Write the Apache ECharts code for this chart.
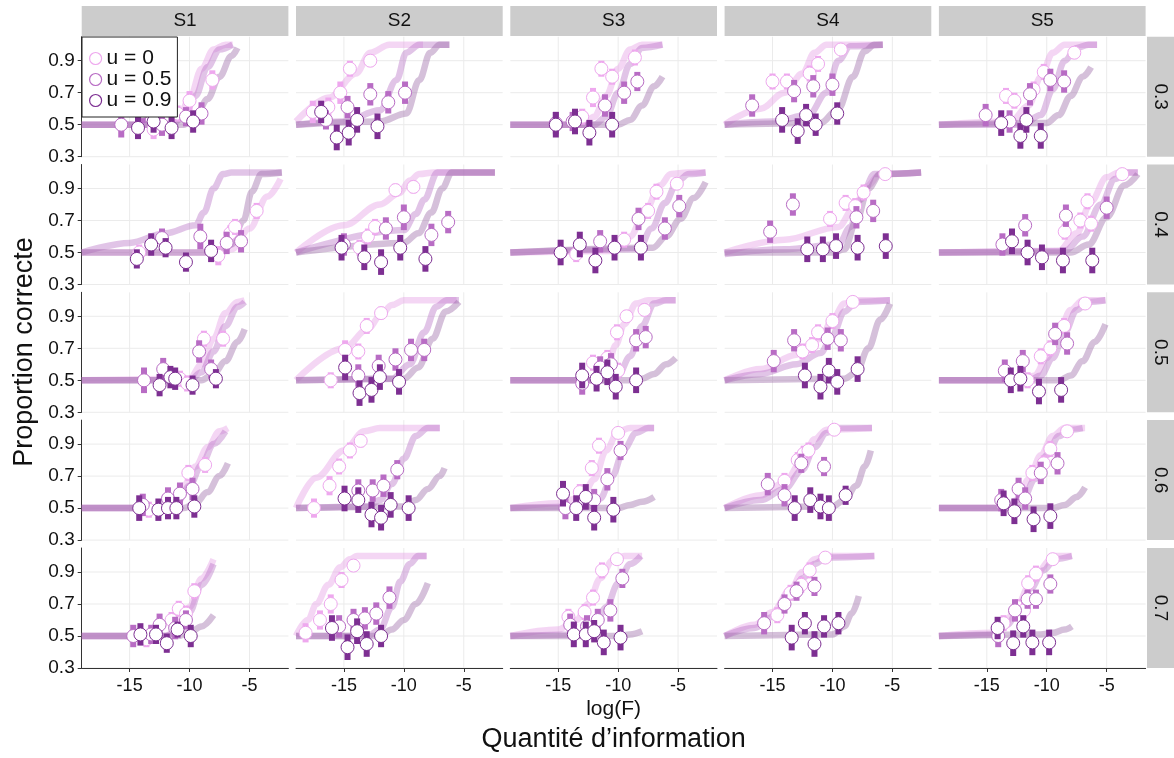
<!DOCTYPE html>
<html>
<head>
<meta charset="utf-8">
<script src="https://cdn.jsdelivr.net/npm/echarts@6/dist/echarts.min.js"></script>
<style>
  html, body { margin: 0; padding: 0; background: #fff; }
  #chart { width: 1174px; height: 758px; }
</style>
</head>
<body>
<div id="chart"></div>
<script>
// facettes : colonnes = sujets, lignes = niveau de bruit
var subjects = ['S1', 'S2', 'S3', 'S4', 'S5'];
var rowLabels = ['0.3', '0.4', '0.5', '0.6', '0.7'];
var uNames = ['u = 0', 'u = 0.5', 'u = 0.9'];
var xTicks = [-15, -10, -5];
var yTicks = [0.3, 0.5, 0.7, 0.9];

// points observés [log(F), proportion, demi-barre], [ligne][sujet]
var pts0 = [
  [[[-13.0,0.47,0.06],[-11.9,0.53,0.05],[-11.0,0.57,0.05],[-10.0,0.65,0.06],[-8.1,0.78,0.06]],
   [[-17.6,0.58,0.07],[-16.3,0.61,0.06],[-15.3,0.70,0.07],[-14.5,0.85,0.05],[-12.8,0.90,0.04]],
   [[-13.0,0.55,0.05],[-12.1,0.67,0.06],[-11.4,0.85,0.05],[-10.5,0.80,0.05],[-8.6,0.92,0.05]],
   [[-15.0,0.77,0.05],[-13.8,0.77,0.05],[-11.9,0.82,0.05],[-11.2,0.88,0.05],[-9.3,0.97,0.03]],
   [[-13.4,0.68,0.05],[-12.7,0.65,0.05],[-11.1,0.72,0.05],[-10.25,0.83,0.05],[-7.7,0.95,0.04]]],
  [[[-14.2,0.50,0.05],[-7.6,0.48,0.06],[-6.6,0.62,0.05],[-6.2,0.66,0.05],[-4.4,0.76,0.05]],
   [[-13.7,0.53,0.05],[-13.0,0.60,0.05],[-12.4,0.66,0.05],[-10.7,0.89,0.04],[-9.2,0.91,0.04]],
   [[-13.5,0.49,0.05],[-9.5,0.58,0.05],[-7.5,0.76,0.05],[-6.8,0.88,0.05],[-5.1,0.93,0.04]],
   [[-10.2,0.71,0.05],[-8.9,0.81,0.05],[-8.1,0.79,0.05],[-7.4,0.875,0.05],[-5.6,0.99,0.03]],
   [[-8.5,0.63,0.05],[-7.2,0.70,0.05],[-6.6,0.82,0.05],[-6.3,0.68,0.05],[-3.7,0.99,0.03]]],
  [[[-10.8,0.51,0.05],[-10.2,0.48,0.05],[-8.8,0.76,0.05],[-7.2,0.76,0.05]],
   [[-16.1,0.50,0.05],[-14.9,0.69,0.06],[-13.8,0.68,0.05],[-13.1,0.84,0.05],[-11.9,0.92,0.04]],
   [[-12.1,0.61,0.05],[-10.9,0.64,0.05],[-10.0,0.56,0.05],[-10.1,0.80,0.05],[-9.3,0.90,0.04],[-7.8,0.94,0.04]],
   [[-12.5,0.68,0.05],[-11.7,0.72,0.05],[-11.2,0.80,0.05],[-10.0,0.87,0.05],[-8.3,0.99,0.03]],
   [[-11.6,0.50,0.05],[-10.5,0.65,0.05],[-9.7,0.70,0.05],[-8.55,0.84,0.05],[-6.8,0.98,0.03]]],
  [[[-13.4,0.49,0.05],[-11.5,0.53,0.05],[-10.1,0.72,0.05],[-8.7,0.77,0.05]],
   [[-17.5,0.50,0.06],[-16.2,0.64,0.06],[-15.4,0.76,0.05],[-14.5,0.86,0.05],[-13.6,0.92,0.04]],
   [[-13.2,0.60,0.05],[-12.2,0.75,0.05],[-11.6,0.89,0.05],[-10.0,0.97,0.03]],
   [[-14.0,0.67,0.05],[-12.9,0.80,0.05],[-12.4,0.84,0.05],[-12.0,0.86,0.05],[-9.85,0.99,0.03]],
   [[-13.6,0.52,0.05],[-12.1,0.60,0.05],[-11.2,0.72,0.05],[-10.25,0.78,0.05],[-9.7,0.87,0.05],[-8.3,0.98,0.03]]],
  [[[-13.6,0.48,0.05],[-11.5,0.60,0.05],[-10.9,0.67,0.05],[-10.3,0.64,0.05],[-9.6,0.78,0.05]],
   [[-18.2,0.52,0.06],[-17.0,0.60,0.06],[-16.1,0.70,0.06],[-15.2,0.85,0.05],[-14.2,0.94,0.04]],
   [[-14.15,0.62,0.05],[-12.8,0.65,0.05],[-12.1,0.74,0.05],[-11.35,0.91,0.05],[-10.1,0.98,0.03]],
   [[-14.6,0.63,0.05],[-13.5,0.77,0.05],[-12.6,0.82,0.05],[-11.9,0.91,0.05],[-10.6,0.99,0.03]],
   [[-14.05,0.55,0.05],[-13.6,0.58,0.05],[-12.4,0.68,0.05],[-11.9,0.66,0.05],[-11.55,0.83,0.05],[-10.9,0.89,0.05],[-9.5,0.98,0.03]]]
];
var pts5 = [
  [[[-15.7,0.50,0.08],[-13.9,0.58,0.07],[-12.3,0.50,0.07],[-10.3,0.55,0.06],[-9.0,0.57,0.07]],
   [[-16.5,0.53,0.06],[-14.7,0.61,0.07],[-12.8,0.69,0.07],[-11.3,0.64,0.07],[-9.9,0.70,0.07]],
   [[-15.2,0.51,0.07],[-13.8,0.52,0.06],[-11.1,0.62,0.07],[-9.5,0.70,0.07],[-8.4,0.77,0.06]],
   [[-16.7,0.62,0.07],[-13.2,0.71,0.07],[-11.6,0.74,0.07],[-10.0,0.75,0.07]],
   [[-15.1,0.56,0.07],[-13.1,0.52,0.07],[-11.4,0.69,0.07],[-9.7,0.78,0.07],[-8.55,0.77,0.07]]],
  [[[-12.3,0.59,0.06],[-9.1,0.60,0.08],[-6.9,0.56,0.07],[-5.7,0.57,0.07]],
   [[-15.0,0.55,0.07],[-11.5,0.65,0.07],[-10.0,0.72,0.08],[-7.7,0.61,0.07],[-6.3,0.69,0.07]],
   [[-11.5,0.57,0.07],[-8.3,0.71,0.07],[-6.1,0.65,0.07],[-4.9,0.79,0.07]],
   [[-15.2,0.63,0.07],[-13.3,0.80,0.07],[-8.0,0.72,0.07],[-6.6,0.76,0.07]],
   [[-13.7,0.55,0.07],[-11.8,0.67,0.07],[-8.4,0.73,0.07],[-5.0,0.78,0.07]]],
  [[[-13.8,0.50,0.08],[-12.2,0.57,0.07],[-9.2,0.68,0.07],[-8.2,0.57,0.06]],
   [[-13.8,0.53,0.07],[-12.1,0.59,0.07],[-10.7,0.63,0.07],[-9.4,0.69,0.07],[-8.3,0.69,0.07]],
   [[-13.0,0.48,0.07],[-11.5,0.58,0.07],[-10.6,0.60,0.07],[-8.5,0.75,0.07],[-7.7,0.77,0.07]],
   [[-14.9,0.62,0.07],[-13.2,0.75,0.07],[-10.4,0.76,0.07],[-9.3,0.75,0.07]],
   [[-13.5,0.56,0.07],[-12.0,0.62,0.07],[-9.3,0.79,0.07],[-8.3,0.73,0.07]]],
  [[[-13.9,0.52,0.07],[-11.8,0.56,0.07],[-10.8,0.59,0.07],[-9.75,0.62,0.07]],
   [[-13.8,0.61,0.07],[-12.6,0.61,0.07],[-11.7,0.64,0.07],[-10.55,0.74,0.06]],
   [[-14.4,0.50,0.07],[-12.0,0.55,0.07],[-10.9,0.68,0.07],[-9.8,0.86,0.06]],
   [[-15.4,0.65,0.07],[-14.0,0.58,0.07],[-12.6,0.78,0.06],[-10.7,0.76,0.06]],
   [[-13.8,0.55,0.07],[-12.35,0.62,0.07],[-11.8,0.56,0.07],[-10.5,0.72,0.07],[-9.1,0.78,0.07]]],
  [[[-14.7,0.50,0.07],[-13.2,0.51,0.06],[-12.5,0.57,0.07],[-11.2,0.55,0.07],[-10.3,0.60,0.06]],
   [[-15.4,0.56,0.07],[-14.2,0.60,0.07],[-13.25,0.61,0.07],[-12.3,0.64,0.07],[-11.2,0.74,0.07]],
   [[-14.0,0.57,0.07],[-12.6,0.56,0.07],[-11.7,0.60,0.07],[-10.65,0.66,0.07],[-9.65,0.86,0.06]],
   [[-15.7,0.58,0.07],[-14.0,0.70,0.06],[-13.0,0.78,0.06],[-11.5,0.81,0.06]],
   [[-14.05,0.50,0.07],[-12.65,0.66,0.07],[-11.6,0.73,0.06],[-10.9,0.73,0.06],[-9.7,0.825,0.06]]]
];
var pts9 = [
  [[[-14.3,0.48,0.07],[-13.0,0.52,0.07],[-11.5,0.48,0.07],[-9.7,0.52,0.07]],
   [[-16.9,0.58,0.07],[-15.6,0.42,0.08],[-14.6,0.45,0.08],[-13.9,0.53,0.08],[-12.2,0.49,0.08]],
   [[-15.2,0.50,0.08],[-13.6,0.52,0.08],[-12.4,0.45,0.08],[-10.5,0.50,0.08]],
   [[-14.2,0.53,0.08],[-12.9,0.46,0.08],[-12.2,0.56,0.07],[-11.4,0.50,0.07],[-9.6,0.57,0.07]],
   [[-13.8,0.51,0.08],[-12.2,0.43,0.08],[-11.7,0.53,0.08],[-10.5,0.43,0.08]]],
  [[[-14.4,0.46,0.06],[-13.2,0.55,0.07],[-12.0,0.53,0.06],[-10.3,0.44,0.06],[-8.2,0.51,0.07]],
   [[-15.2,0.53,0.08],[-13.3,0.47,0.08],[-11.9,0.44,0.08],[-10.3,0.53,0.08],[-8.2,0.46,0.08]],
   [[-14.8,0.50,0.08],[-13.2,0.55,0.08],[-11.9,0.45,0.08],[-10.3,0.53,0.08],[-8.1,0.53,0.08]],
   [[-12.1,0.52,0.08],[-10.8,0.52,0.08],[-9.7,0.54,0.08],[-7.9,0.53,0.08],[-5.55,0.54,0.08]],
   [[-12.9,0.57,0.08],[-11.6,0.50,0.08],[-10.4,0.47,0.08],[-8.65,0.45,0.08],[-6.2,0.45,0.08]]],
  [[[-12.5,0.47,0.07],[-11.6,0.52,0.07],[-11.2,0.51,0.07],[-9.75,0.47,0.06],[-7.8,0.51,0.06]],
   [[-14.9,0.58,0.08],[-13.7,0.42,0.08],[-12.7,0.44,0.08],[-12.0,0.52,0.08],[-10.4,0.49,0.08]],
   [[-13.0,0.53,0.08],[-11.8,0.51,0.08],[-10.9,0.55,0.08],[-10.2,0.46,0.08],[-8.5,0.50,0.08]],
   [[-12.3,0.53,0.08],[-11.0,0.46,0.08],[-10.3,0.56,0.08],[-9.6,0.49,0.08],[-7.9,0.57,0.08]],
   [[-13.0,0.50,0.08],[-12.2,0.51,0.08],[-10.65,0.43,0.08],[-8.8,0.44,0.08]]],
  [[[-14.2,0.50,0.08],[-12.6,0.49,0.07],[-11.8,0.50,0.07],[-11.1,0.50,0.07],[-9.6,0.51,0.07]],
   [[-14.95,0.56,0.08],[-13.8,0.55,0.08],[-12.7,0.46,0.08],[-11.9,0.44,0.08],[-11.1,0.52,0.08],[-9.6,0.50,0.08]],
   [[-14.6,0.59,0.08],[-13.5,0.50,0.08],[-12.7,0.57,0.08],[-12.0,0.44,0.08],[-10.4,0.49,0.08]],
   [[-13.15,0.50,0.08],[-11.85,0.55,0.08],[-11.0,0.51,0.08],[-10.3,0.50,0.08],[-8.9,0.58,0.06]],
   [[-13.6,0.53,0.08],[-12.7,0.48,0.08],[-11.1,0.43,0.08],[-9.7,0.45,0.08]]],
  [[[-14.1,0.51,0.07],[-12.8,0.51,0.06],[-11.9,0.455,0.06],[-11.0,0.54,0.05],[-9.9,0.50,0.07]],
   [[-16.0,0.55,0.08],[-14.7,0.43,0.08],[-13.9,0.53,0.08],[-13.1,0.45,0.08],[-11.9,0.50,0.07]],
   [[-13.7,0.51,0.08],[-12.7,0.51,0.08],[-12.0,0.53,0.07],[-11.2,0.46,0.08],[-9.8,0.49,0.08]],
   [[-13.4,0.49,0.08],[-12.3,0.58,0.07],[-11.5,0.45,0.08],[-10.7,0.56,0.07],[-9.5,0.58,0.07]],
   [[-14.1,0.55,0.07],[-12.8,0.455,0.08],[-11.96,0.56,0.07],[-11.2,0.46,0.08],[-9.8,0.46,0.08]]]
];

// courbes psychométriques ajustées
var crv0 = [
  [[[-19,0.5],[-12,0.5],[-11,0.53],[-10,0.66],[-9,0.85],[-8,0.97],[-7,1.0],[-6.4,1.0]],
   [[-19,0.52],[-16.2,0.67],[-14,0.82],[-12.8,0.95],[-11.2,1.0],[-8.4,1.0]],
   [[-19,0.5],[-13,0.5],[-12,0.55],[-11,0.68],[-10,0.85],[-9,0.97],[-8,1.0],[-6.3,1.0]],
   [[-19,0.5],[-16,0.6],[-14,0.7],[-12.5,0.82],[-11.5,0.95],[-10.5,1.0],[-5.8,1.0]],
   [[-19,0.5],[-13,0.52],[-11.5,0.62],[-10.5,0.8],[-9.5,0.95],[-8.5,1.0],[-5.8,1.0]]],
  [[[-19,0.5],[-7.5,0.5],[-6.5,0.52],[-5,0.65],[-3.5,0.85],[-2.4,0.96]],
   [[-19,0.5],[-15,0.67],[-12,0.8],[-10.4,0.87],[-9.5,0.95],[-8.7,0.99],[-7.5,1.0],[-2.4,1.0]],
   [[-19,0.5],[-10.5,0.51],[-9,0.6],[-7.8,0.75],[-6.5,0.92],[-5.6,0.99],[-4.2,1.0],[-2.7,1.0]],
   [[-19,0.5],[-14,0.58],[-9.5,0.66],[-8.2,0.78],[-7.2,0.91],[-6,0.99],[-2.6,1.0]],
   [[-19,0.5],[-9,0.51],[-7.5,0.62],[-6.3,0.82],[-5,0.97],[-4,1.0],[-2.4,1.0]]],
  [[[-19,0.5],[-10,0.51],[-9,0.6],[-8,0.76],[-7,0.92],[-6,0.99],[-5.4,1.0]],
   [[-19,0.5],[-15,0.7],[-13,0.82],[-12,0.9],[-11,0.97],[-10,1.0],[-5.6,1.0]],
   [[-19,0.5],[-12,0.5],[-11,0.55],[-10.2,0.72],[-9.5,0.85],[-8.5,0.98],[-7.5,1.0],[-5.2,1.0]],
   [[-19,0.5],[-16,0.57],[-13,0.66],[-11,0.76],[-10,0.88],[-9,0.98],[-8,1.0],[-5.2,1.0]],
   [[-19,0.5],[-12,0.5],[-11,0.53],[-10,0.64],[-9,0.8],[-8,0.94],[-7,1.0],[-5.1,1.0]]],
  [[[-19,0.5],[-12.5,0.5],[-11.5,0.54],[-10.5,0.64],[-9.5,0.76],[-8.5,0.88],[-7.5,0.98],[-6.8,1.0]],
   [[-19,0.5],[-17.3,0.69],[-15,0.86],[-13.3,0.98],[-12,1.0],[-7,1.0]],
   [[-19,0.5],[-15,0.53],[-13,0.57],[-12,0.68],[-11,0.86],[-10,0.98],[-9,1.0],[-7,1.0]],
   [[-19,0.5],[-16,0.58],[-14,0.66],[-12.5,0.8],[-11.5,0.93],[-10.5,0.99],[-6.7,1.0]],
   [[-19,0.5],[-13.5,0.5],[-12.5,0.55],[-11.5,0.68],[-10.5,0.83],[-9.5,0.95],[-8.5,1.0],[-6.8,1.0]]],
  [[[-19,0.5],[-12,0.5],[-11,0.54],[-10,0.68],[-9,0.86],[-8,0.98]],
   [[-19,0.5],[-18,0.6],[-17.3,0.7],[-16.3,0.82],[-15.3,0.93],[-14.5,0.98],[-13.9,1.0],[-8.1,1.0]],
   [[-19,0.5],[-15,0.54],[-13.5,0.6],[-12.5,0.7],[-11.5,0.86],[-10.5,0.97],[-9.5,1.0],[-8,1.0]],
   [[-19,0.5],[-16.5,0.57],[-15,0.65],[-13.5,0.79],[-12.5,0.9],[-11.5,0.98],[-10.5,1.0],[-6.5,1.0]],
   [[-19,0.5],[-14.5,0.52],[-13.5,0.58],[-12.5,0.68],[-11.5,0.81],[-10.6,0.91],[-9.8,0.97],[-9.2,1.0],[-7.9,1.0]]]
];
var crv5 = [
  [[[-19,0.5],[-11.5,0.5],[-10.5,0.55],[-9.5,0.68],[-8.5,0.86],[-7.5,0.97],[-6.4,1.0]],
   [[-19,0.5],[-15,0.52],[-12,0.59],[-10.6,0.78],[-9.8,0.95],[-8.7,1.0],[-6.2,1.0]],
   [[-19,0.5],[-12,0.5],[-11,0.55],[-10,0.7],[-9,0.88],[-8,0.98],[-6.3,1.0]],
   [[-19,0.5],[-15,0.52],[-12,0.56],[-10.5,0.7],[-9.5,0.9],[-8.5,0.99],[-5.8,1.0]],
   [[-19,0.5],[-12,0.5],[-10.5,0.56],[-9.5,0.72],[-8.5,0.9],[-7.5,0.98],[-6.5,1.0],[-5.8,1.0]]],
  [[[-19,0.5],[-15,0.56],[-12,0.62],[-9.5,0.67],[-8.8,0.75],[-8,0.9],[-7.2,0.99],[-6.5,1.0],[-2.3,1.0]],
   [[-19,0.5],[-10,0.64],[-9,0.74],[-8.3,0.83],[-7.2,1.0],[-2.4,1.0]],
   [[-19,0.5],[-8.3,0.52],[-7.2,0.65],[-6.1,0.81],[-5,0.95],[-4.1,0.99],[-2.7,1.0]],
   [[-19,0.49],[-14,0.52],[-9.5,0.55],[-8.5,0.66],[-7.7,0.83],[-6.5,0.99],[-2.6,1.0]],
   [[-19,0.5],[-8.5,0.51],[-7,0.6],[-5.5,0.8],[-4.3,0.96],[-3.3,1.0],[-2.4,1.0]]],
  [[[-19,0.5],[-10,0.5],[-9,0.55],[-8,0.68],[-7,0.84],[-6,0.96],[-5.4,0.99]],
   [[-19,0.5],[-11,0.51],[-9.5,0.6],[-8.3,0.8],[-7.3,0.96],[-6.4,1.0],[-5.4,1.0]],
   [[-19,0.5],[-11,0.5],[-10,0.53],[-9,0.65],[-8,0.84],[-7,0.98],[-6,1.0],[-5.2,1.0]],
   [[-19,0.5],[-16,0.54],[-13,0.6],[-11,0.67],[-10,0.78],[-9,0.93],[-8,0.99],[-5.2,1.0]],
   [[-19,0.5],[-11.5,0.5],[-10.5,0.53],[-9.5,0.64],[-8.5,0.8],[-7.5,0.94],[-6.5,0.99],[-5.1,1.0]]],
  [[[-19,0.5],[-12,0.5],[-11,0.54],[-10,0.64],[-9,0.77],[-8,0.9],[-7,0.98]],
   [[-19,0.5],[-13,0.51],[-12,0.55],[-11,0.65],[-10,0.81],[-9,0.95],[-8,1.0],[-7,1.0]],
   [[-19,0.5],[-12.5,0.51],[-11.5,0.56],[-10.5,0.7],[-9.5,0.87],[-8.5,0.97],[-7.5,1.0],[-7,1.0]],
   [[-19,0.5],[-16,0.55],[-14,0.62],[-12.5,0.74],[-11.5,0.88],[-10.5,0.97],[-9.5,1.0],[-6.7,1.0]],
   [[-19,0.5],[-13,0.5],[-12,0.55],[-11,0.68],[-10,0.83],[-9,0.95],[-8,0.99],[-7,1.0]]],
  [[[-19,0.5],[-12,0.5],[-11,0.53],[-10,0.65],[-9,0.82],[-8,0.95]],
   [[-19,0.5],[-13,0.5],[-12,0.54],[-11,0.68],[-10.3,0.84],[-9.5,0.95],[-8.8,1.0],[-8.1,1.0]],
   [[-19,0.5],[-13,0.51],[-12,0.56],[-11,0.68],[-10,0.83],[-9,0.95],[-8.1,1.0]],
   [[-19,0.5],[-16.5,0.55],[-15,0.62],[-13.5,0.75],[-12.5,0.86],[-11.5,0.95],[-10.5,0.99],[-6.5,1.0]],
   [[-19,0.5],[-14.3,0.51],[-13.3,0.57],[-12.3,0.67],[-11.3,0.8],[-10.3,0.91],[-9.3,0.98],[-7.9,1.0]]]
];
var crv9 = [
  [[[-19,0.5],[-10.5,0.5],[-9.5,0.55],[-8.5,0.66],[-7.5,0.8],[-6.5,0.93],[-6,0.98]],
   [[-19,0.5],[-12,0.52],[-9.8,0.57],[-8.7,0.78],[-7.8,0.95],[-7,1.0],[-6.2,1.0]],
   [[-19,0.5],[-10,0.5],[-9,0.53],[-8,0.62],[-7,0.74],[-6.3,0.8]],
   [[-19,0.5],[-11,0.51],[-9.5,0.6],[-8.3,0.8],[-7.3,0.96],[-6.5,1.0],[-5.8,1.0]],
   [[-19,0.5],[-10,0.51],[-9,0.56],[-8,0.68],[-7,0.8],[-6.3,0.86]]],
  [[[-19,0.5],[-8,0.5],[-6.5,0.55],[-5.5,0.7],[-4.8,0.88],[-4,0.99],[-2.3,1.0]],
   [[-19,0.5],[-10,0.56],[-8.8,0.62],[-7.7,0.75],[-6.8,0.9],[-6,1.0],[-2.4,1.0]],
   [[-19,0.5],[-7.1,0.53],[-6,0.6],[-4.8,0.71],[-3.7,0.84],[-2.7,0.94]],
   [[-19,0.5],[-10,0.5],[-9,0.52],[-8,0.7],[-7,0.9],[-6,0.99],[-2.6,1.0]],
   [[-19,0.5],[-8,0.5],[-6.5,0.55],[-5,0.72],[-3.5,0.92],[-2.4,0.99]]],
  [[[-19,0.5],[-9,0.5],[-8,0.54],[-7,0.62],[-6,0.74],[-5.4,0.82]],
   [[-19,0.5],[-10,0.51],[-8.8,0.58],[-7.6,0.76],[-6.5,0.93],[-5.4,0.99]],
   [[-19,0.5],[-9,0.5],[-8,0.51],[-7,0.54],[-6,0.6],[-5.2,0.64]],
   [[-19,0.5],[-9,0.51],[-8,0.55],[-7,0.7],[-6,0.88],[-5.2,0.98]],
   [[-19,0.5],[-9,0.5],[-8,0.53],[-7,0.62],[-6,0.74],[-5.1,0.85]]],
  [[[-19,0.5],[-10.5,0.5],[-9.5,0.53],[-8.5,0.6],[-7.5,0.7],[-6.8,0.78]],
   [[-19,0.5],[-10,0.51],[-9,0.55],[-8,0.62],[-7,0.7],[-6.6,0.75]],
   [[-19,0.5],[-10,0.5],[-9,0.52],[-8,0.54],[-7,0.57]],
   [[-19,0.5],[-10,0.51],[-9,0.55],[-8,0.64],[-7.3,0.76],[-6.8,0.86]],
   [[-19,0.5],[-9.5,0.5],[-8.5,0.52],[-7.5,0.57],[-6.8,0.63]]],
  [[[-19,0.5],[-11,0.5],[-10,0.52],[-9,0.56],[-8,0.63]],
   [[-19,0.5],[-12,0.5],[-11,0.54],[-10,0.6],[-9,0.7],[-8,0.83]],
   [[-19,0.5],[-10,0.5],[-9,0.51],[-8,0.53]],
   [[-19,0.5],[-10,0.51],[-9,0.56],[-8.4,0.64],[-7.8,0.75]],
   [[-19,0.5],[-10.5,0.51],[-9.5,0.52],[-8.5,0.54],[-7.9,0.56]]]
];

var pts = [pts0, pts5, pts9];
var crv = [crv0, crv5, crv9];

var FONT = '"Liberation Sans", Arial, sans-serif';
var ptCol = ['#eea8ee', '#b86cc4', '#7d2f92'];
var crvCol = ['rgba(228,157,228,0.42)', 'rgba(184,115,197,0.42)', 'rgba(155,106,168,0.42)'];
var colLeft = [81.7, 296, 510.3, 724.6, 938.9];
var rowTop = [36.7, 164.5, 292.3, 420.1, 548];
var panelW = 206.7, panelH = 120;
var X_MIN = -19, X_MAX = -1.75, Y_MIN = 0.3, Y_MAX = 1.05;

var gridData = yTicks.map(function (v) { return [0, v]; })
  .concat(xTicks.map(function (v) { return [1, v]; }));

function gridRender(params, api) {
  var cs = params.coordSys;
  var style = { stroke: '#ebebeb', lineWidth: 1 };
  if (api.value(0) === 0) {
    var p = api.coord([X_MIN, api.value(1)]);
    return { type: 'line', shape: { x1: cs.x, y1: p[1], x2: cs.x + cs.width, y2: p[1] }, style: style };
  }
  var q = api.coord([api.value(1), Y_MIN]);
  return { type: 'line', shape: { x1: q[0], y1: cs.y, x2: q[0], y2: cs.y + cs.height }, style: style };
}

function pointRender(col) {
  return function (params, api) {
    var x = api.value(0), y = api.value(1), e = api.value(2);
    var c = api.coord([x, y]);
    var hi = api.coord([x, y + e]);
    var lo = api.coord([x, y - e]);
    return {
      type: 'group',
      children: [
        { type: 'rect', shape: { x: c[0] - 3, y: hi[1], width: 6, height: lo[1] - hi[1] }, style: { fill: col } },
        { type: 'circle', shape: { cx: c[0], cy: c[1], r: 6.5 }, style: { fill: '#fff', stroke: col, lineWidth: 1 } }
      ]
    };
  };
}

var grids = [], xAxes = [], yAxes = [], series = [];
for (var r = 0; r < 5; r++) {
  for (var c = 0; c < 5; c++) {
    var k = r * 5 + c;
    grids.push({ left: colLeft[c], top: rowTop[r], width: panelW, height: panelH });
    xAxes.push({
      gridIndex: k, type: 'value', min: X_MIN, max: X_MAX,
      axisLine: { show: r === 4, onZero: false, lineStyle: { color: '#333', width: 1 } },
      axisTick: { show: r === 4, customValues: xTicks, length: 4, lineStyle: { color: '#333' } },
      axisLabel: { show: r === 4, customValues: xTicks, fontSize: 18, color: '#111', margin: 9, fontFamily: FONT },
      splitLine: { show: false }
    });
    yAxes.push({
      gridIndex: k, type: 'value', min: Y_MIN, max: Y_MAX,
      axisLine: { show: c === 0, onZero: false, lineStyle: { color: '#333', width: 1 } },
      axisTick: { show: c === 0, customValues: yTicks, length: 4, lineStyle: { color: '#333' } },
      axisLabel: { show: c === 0, customValues: yTicks, fontSize: 19, color: '#111', margin: 7, fontFamily: FONT },
      splitLine: { show: false }
    });
    series.push({
      type: 'custom', xAxisIndex: k, yAxisIndex: k, silent: true, z: 0,
      data: gridData, renderItem: gridRender
    });
    for (var u = 0; u < 3; u++) {
      series.push({
        type: 'line', xAxisIndex: k, yAxisIndex: k, silent: true, z: 1,
        data: crv[u][r][c], smooth: 0.35, smoothMonotone: 'x', symbol: 'none',
        lineStyle: { width: 6.5, color: crvCol[u], cap: 'butt' }
      });
    }
    for (var u2 = 0; u2 < 3; u2++) {
      series.push({
        type: 'custom', name: uNames[u2], xAxisIndex: k, yAxisIndex: k, z: 2, clip: false,
        data: pts[u2][r][c], renderItem: pointRender(ptCol[u2])
      });
    }
  }
}

// bandeaux des facettes et titres d'axes
var graphics = [];
subjects.forEach(function (s, i) {
  graphics.push({ type: 'rect', silent: true, shape: { x: colLeft[i], y: 6, width: panelW, height: 30 }, style: { fill: '#cccccc' } });
  graphics.push({ type: 'text', silent: true, x: colLeft[i] + panelW / 2, y: 21,
    style: { text: s, fontSize: 19, fontFamily: FONT, fill: '#111', align: 'center', verticalAlign: 'middle' } });
});
rowLabels.forEach(function (s, i) {
  graphics.push({ type: 'rect', silent: true, shape: { x: 1147, y: rowTop[i], width: 27, height: panelH }, style: { fill: '#cccccc' } });
  graphics.push({ type: 'text', silent: true, x: 1160.5, y: rowTop[i] + panelH / 2, rotation: -Math.PI / 2,
    style: { text: s, fontSize: 19, fontFamily: FONT, fill: '#111', align: 'center', verticalAlign: 'middle' } });
});
graphics.push({ type: 'text', silent: true, x: 613.6, y: 709,
  style: { text: 'log(F)', fontSize: 21, fontFamily: FONT, fill: '#111', align: 'center', verticalAlign: 'middle' } });
graphics.push({ type: 'text', silent: true, x: 613.6, y: 740,
  style: { text: 'Quantité d’information', fontSize: 27, fontFamily: FONT, fill: '#111', align: 'center', verticalAlign: 'middle' } });
graphics.push({ type: 'text', silent: true, x: 25, y: 352, rotation: Math.PI / 2,
  style: { text: 'Proportion correcte', fontSize: 27, fontFamily: FONT, fill: '#111', align: 'center', verticalAlign: 'middle' } });

var chart = echarts.init(document.getElementById('chart'));
chart.setOption({
  animation: false,
  backgroundColor: '#fff',
  grid: grids,
  xAxis: xAxes,
  yAxis: yAxes,
  legend: {
    data: uNames.map(function (n, i) {
      return { name: n, icon: 'circle', itemStyle: { color: '#fff', borderColor: ptCol[i], borderWidth: 1.2 } };
    }),
    orient: 'vertical', left: 82, top: 37,
    itemWidth: 12, itemHeight: 12, itemGap: 0,
    padding: [11, 6, 6, 7],
    backgroundColor: '#fff', borderColor: '#222', borderWidth: 1,
    selectedMode: false,
    textStyle: { fontSize: 21, lineHeight: 15.3, color: '#111', fontFamily: FONT }
  },
  graphic: graphics,
  series: series
});
window.addEventListener('resize', function () { chart.resize(); });
</script>
</body>
</html>
